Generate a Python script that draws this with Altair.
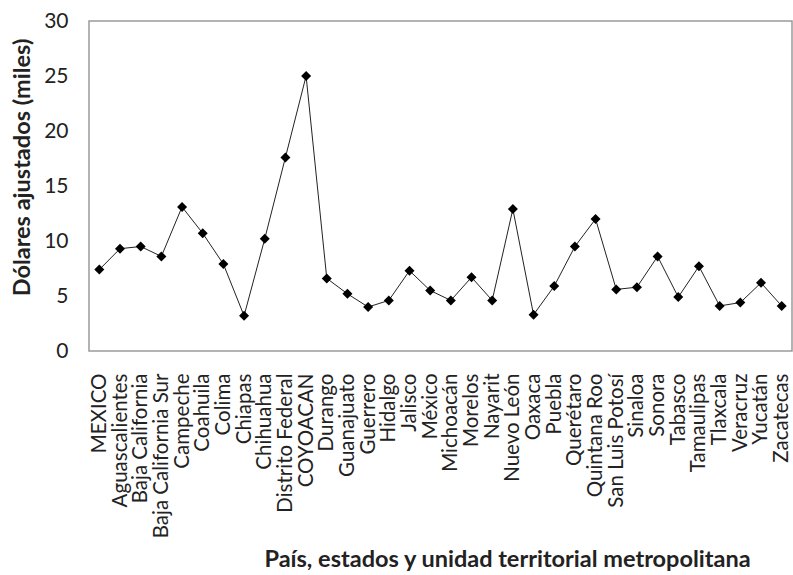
import altair as alt
import pandas as pd

# Territorial units (country, states and the metropolitan unit)
regions = [
    "MEXICO", "Aguascalientes", "Baja California", "Baja California Sur",
    "Campeche", "Coahuila", "Colima", "Chiapas", "Chihuahua",
    "Distrito Federal", "COYOACAN", "Durango", "Guanajuato", "Guerrero",
    "Hidalgo", "Jalisco", "México", "Michoacán", "Morelos", "Nayarit",
    "Nuevo León", "Oaxaca", "Puebla", "Querétaro", "Quintana Roo",
    "San Luis Potosí", "Sinaloa", "Sonora", "Tabasco", "Tamaulipas",
    "Tlaxcala", "Veracruz", "Yucatán", "Zacatecas",
]

# Adjusted dollars, in thousands
dollars = [
    7.4, 9.3, 9.5, 8.6, 13.1, 10.7, 7.9, 3.2, 10.2, 17.6, 25.0, 6.6,
    5.2, 4.0, 4.6, 7.3, 5.5, 4.6, 6.7, 4.6, 12.9, 3.3, 5.9, 9.5, 12.0,
    5.6, 5.8, 8.6, 4.9, 7.7, 4.1, 4.4, 6.2, 4.1,
]

df = pd.DataFrame({"region": regions, "valor": dollars})

FONT = "Lato"

x = alt.X(
    "region:N",
    sort=None,
    title="País, estados y unidad territorial metropolitana",
    scale=alt.Scale(paddingInner=0, paddingOuter=0),
    axis=alt.Axis(
        labelAngle=-90,
        labelAlign="right",
        labelBaseline="middle",
        labelPadding=22,
        labelFontSize=20.5,
        labelColor="#222",
        labelFont=FONT,
        labelOverlap=False,
        ticks=False,
        domain=False,
        titleFont=FONT,
        titleFontSize=23.5,
        titleFontWeight="bold",
        titleColor="#222",
        titleX=418,
        titleY=208,
        titleAlign="center",
        titleBaseline="middle",
    ),
)

y = alt.Y(
    "valor:Q",
    title="Dólares ajustados  (miles)",
    scale=alt.Scale(domain=[0, 30], nice=False),
    axis=alt.Axis(
        values=[0, 5, 10, 15, 20, 25, 30],
        grid=False,
        ticks=False,
        domain=False,
        labelPadding=21,
        labelFontSize=21,
        labelColor="#222",
        labelFont=FONT,
        titleFont=FONT,
        titleFontSize=23.5,
        titleFontWeight="bold",
        titleColor="#222",
        titleAngle=-90,
        titleX=-67,
        titleY=146,
        titleAlign="center",
        titleBaseline="middle",
    ),
)

base = alt.Chart(df).encode(x=x, y=y)

line = base.mark_line(color="#222", strokeWidth=1)
points = base.mark_point(shape="diamond", filled=True, color="#000", size=100, opacity=1)

chart = (
    alt.layer(line, points)
    .properties(
        width=703,
        height=330,
        autosize=alt.AutoSizeParams(type="none"),
        padding={"left": 89, "top": 21, "right": 1, "bottom": 224},
        background="white",
    )
    .configure_view(stroke="#9a9a9a", strokeWidth=1.5)
)

chart.save("out.html", embed_options={"renderer": "svg", "actions": False})
